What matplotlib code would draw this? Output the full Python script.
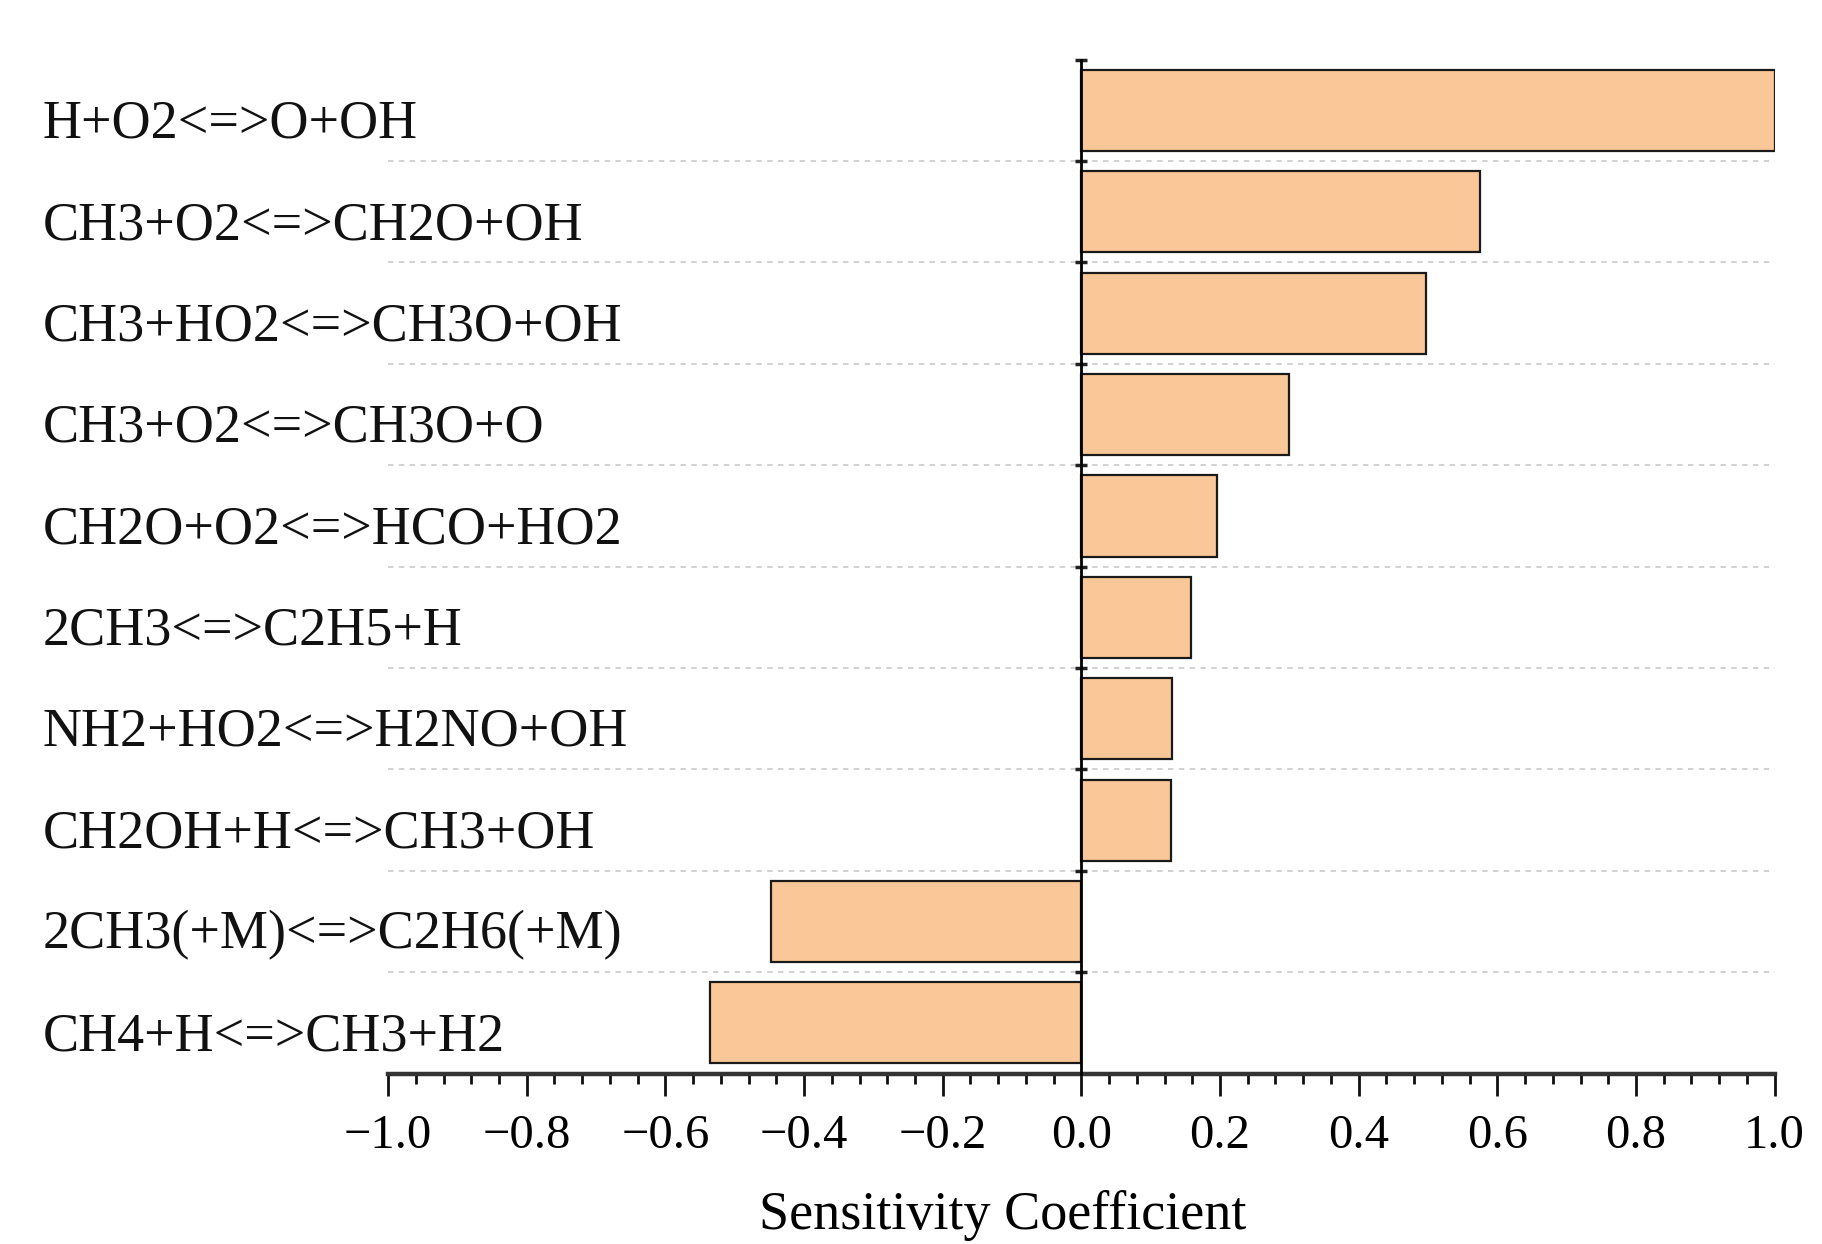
import numpy as np
import matplotlib
matplotlib.use("Agg")
import matplotlib.pyplot as plt
import matplotlib.transforms as mtransforms
from matplotlib.ticker import MultipleLocator

plt.rcParams["font.family"] = ["Liberation Serif", "DejaVu Serif"]

# Data
reactions = [
    "H+O2<=>O+OH",
    "CH3+O2<=>CH2O+OH",
    "CH3+HO2<=>CH3O+OH",
    "CH3+O2<=>CH3O+O",
    "CH2O+O2<=>HCO+HO2",
    "2CH3<=>C2H5+H",
    "NH2+HO2<=>H2NO+OH",
    "CH2OH+H<=>CH3+OH",
    "2CH3(+M)<=>C2H6(+M)",
    "CH4+H<=>CH3+H2",
]
sensitivity = [1.0, 0.575, 0.497, 0.300, 0.195, 0.158, 0.131, 0.129, -0.448, -0.535]
xtick_labels = ["\u22121.0", "\u22120.8", "\u22120.6", "\u22120.4", "\u22120.2",
                "0.0", "0.2", "0.4", "0.6", "0.8", "1.0"]

fig = plt.figure(figsize=(18.22, 12.44), dpi=100)
ax = fig.add_axes([0.2130, 0.1370, 0.7610, 0.8150])

y = np.arange(len(reactions))
ax.barh(y, sensitivity, height=0.8, color="#FAC898", edgecolor="#1a1a1a",
        linewidth=1.6, zorder=3)

ax.set_xlim(-1.0, 1.0)
ax.set_ylim(len(reactions) - 0.5, -0.5)

# dotted separators between categories
for b in y[1:] - 0.5:
    ax.axhline(b, color="#cfcfcf", lw=1.3, ls=(0, (3, 3)), zorder=1)

# spines
ax.spines["top"].set_visible(False)
ax.spines["right"].set_visible(False)
ax.spines["left"].set_position(("data", 0))
ax.spines["left"].set_linewidth(2.0)
ax.spines["left"].set_zorder(4)
ax.spines["bottom"].set_linewidth(3.2)
ax.spines["bottom"].set_color("#333333")

# x ticks
ax.set_xticks(np.arange(-1.0, 1.01, 0.2))
ax.set_xticklabels(xtick_labels)
ax.xaxis.set_minor_locator(MultipleLocator(0.04))
ax.tick_params(axis="x", which="major", direction="out", length=16, width=2.0,
               labelsize=35, pad=13, color="#111111")
ax.tick_params(axis="x", which="minor", direction="out", length=7.5, width=2.0,
               color="#111111")

# y ticks at category boundaries on the zero line
ax.set_yticks(y - 0.5)
ax.set_yticklabels([])
ax.tick_params(axis="y", which="major", direction="inout", length=9, width=2.5,
               color="#222222")

# category labels, left aligned
trans = mtransforms.blended_transform_factory(fig.transFigure, ax.transData)
trans = trans + mtransforms.ScaledTranslation(0, -0.14, fig.dpi_scale_trans)
for yi, name in zip(y, reactions):
    ax.text(0.0236, yi, name, transform=trans, ha="left", va="center",
            fontsize=39, color="#111111")

ax.set_xlabel("Sensitivity Coefficient", fontsize=39)
ax.xaxis.set_label_coords(0.443, -0.115)

fig.savefig("out.png", dpi=100)
